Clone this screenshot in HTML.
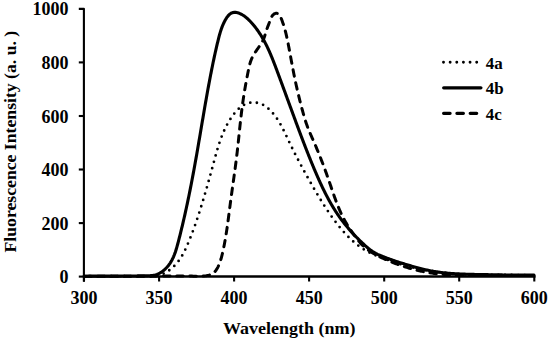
<!DOCTYPE html>
<html><head><meta charset="utf-8"><style>
html,body{margin:0;padding:0;background:#fff;}
body{width:550px;height:339px;overflow:hidden;}
svg{display:block;}
text{font-family:"Liberation Serif", serif;font-weight:bold;font-size:18px;fill:#000;}
</style></head><body>
<svg width="550" height="339" viewBox="0 0 550 339">
<rect width="550" height="339" fill="#fff"/>
<g stroke="#000" stroke-width="2.1" fill="none" stroke-linecap="butt">
<path d="M78.8 8.85 H83.9 V281.7" stroke-linejoin="round"/>
<line x1="83" y1="276.5" x2="535.5" y2="276.5" stroke-width="2.4"/>
<line x1="78.8" y1="276.6" x2="84" y2="276.6"/><line x1="78.8" y1="223.1" x2="84" y2="223.1"/><line x1="78.8" y1="169.5" x2="84" y2="169.5"/><line x1="78.8" y1="116.0" x2="84" y2="116.0"/><line x1="78.8" y1="62.4" x2="84" y2="62.4"/>
<line x1="84.0" y1="276" x2="84.0" y2="281.5"/><line x1="159.1" y1="276" x2="159.1" y2="281.5"/><line x1="234.1" y1="276" x2="234.1" y2="281.5"/><line x1="309.1" y1="276" x2="309.1" y2="281.5"/><line x1="384.2" y1="276" x2="384.2" y2="281.5"/><line x1="459.2" y1="276" x2="459.2" y2="281.5"/><line x1="534.3" y1="276" x2="534.3" y2="281.5"/>
</g>
<g fill="none" stroke="#000" stroke-linejoin="round">
<path d="M84.00 276.28 L85.01 276.29 L86.01 276.29 L87.01 276.29 L88.01 276.29 L89.01 276.29 L90.01 276.29 L91.01 276.29 L92.01 276.29 L93.01 276.29 L94.01 276.29 L95.01 276.29 L96.01 276.28 L97.02 276.28 L98.02 276.28 L99.02 276.27 L100.02 276.27 L101.02 276.26 L102.02 276.26 L103.02 276.25 L104.02 276.24 L105.02 276.24 L106.02 276.23 L107.02 276.23 L108.02 276.22 L109.03 276.21 L110.03 276.21 L111.03 276.20 L112.03 276.20 L113.03 276.19 L114.03 276.19 L115.03 276.18 L116.03 276.18 L117.03 276.17 L118.03 276.17 L119.03 276.16 L120.03 276.16 L121.04 276.16 L122.04 276.15 L123.04 276.15 L124.04 276.15 L125.04 276.15 L126.04 276.15 L127.04 276.15 L128.04 276.15 L129.04 276.15 L130.04 276.15 L131.04 276.15 L132.05 276.15 L133.05 276.16 L134.05 276.16 L135.05 276.16 L136.05 276.17 L137.05 276.17 L138.05 276.17 L139.05 276.18 L140.05 276.18 L141.05 276.19 L142.05 276.19 L143.05 276.20 L144.06 276.20 L145.06 276.21 L146.06 276.21 L147.06 276.21 L148.06 276.21 L149.06 276.19 L150.06 276.17 L151.06 276.14 L152.06 276.09 L153.06 276.02 L154.06 275.94 L155.05 275.83 L156.04 275.70 L157.03 275.54 L158.01 275.35 L158.99 275.12 L159.96 274.87 L160.91 274.57 L161.86 274.24 L162.79 273.88 L163.71 273.49 L164.62 273.06 L165.51 272.60 L166.38 272.12 L167.24 271.61 L168.09 271.07 L168.91 270.51 L169.73 269.92 L170.52 269.31 L171.30 268.69 L172.06 268.04 L172.81 267.37 L173.54 266.69 L174.26 265.99 L174.96 265.27 L175.64 264.54 L176.30 263.79 L176.95 263.03 L177.59 262.26 L178.21 261.47 L178.81 260.67 L179.39 259.86 L179.96 259.03 L180.51 258.20 L181.05 257.36 L181.58 256.50 L182.09 255.64 L182.59 254.78 L183.07 253.90 L183.54 253.02 L184.01 252.13 L184.46 251.24 L184.90 250.34 L185.33 249.44 L185.75 248.53 L186.17 247.62 L186.58 246.71 L186.98 245.79 L187.38 244.87 L187.78 243.95 L188.17 243.03 L188.55 242.11 L188.94 241.18 L189.32 240.26 L189.70 239.33 L190.07 238.40 L190.44 237.47 L190.81 236.54 L191.17 235.61 L191.53 234.68 L191.89 233.74 L192.25 232.81 L192.60 231.87 L192.95 230.93 L193.30 229.99 L193.64 229.05 L193.99 228.11 L194.33 227.17 L194.66 226.23 L195.00 225.29 L195.33 224.34 L195.66 223.40 L195.99 222.45 L196.31 221.50 L196.64 220.56 L196.96 219.61 L197.27 218.66 L197.59 217.71 L197.91 216.76 L198.22 215.81 L198.53 214.86 L198.84 213.91 L199.15 212.95 L199.45 212.00 L199.76 211.05 L200.06 210.09 L200.36 209.14 L200.66 208.18 L200.96 207.23 L201.25 206.27 L201.55 205.32 L201.84 204.36 L202.13 203.40 L202.42 202.44 L202.71 201.49 L203.00 200.53 L203.29 199.57 L203.58 198.61 L203.86 197.65 L204.15 196.69 L204.43 195.73 L204.71 194.77 L204.99 193.81 L205.27 192.85 L205.55 191.89 L205.83 190.93 L206.11 189.97 L206.39 189.00 L206.66 188.04 L206.94 187.08 L207.21 186.12 L207.48 185.15 L207.75 184.19 L208.03 183.23 L208.30 182.26 L208.57 181.30 L208.84 180.34 L209.11 179.37 L209.38 178.41 L209.64 177.44 L209.91 176.48 L210.18 175.52 L210.44 174.55 L210.71 173.59 L210.97 172.62 L211.24 171.66 L211.50 170.69 L211.77 169.73 L212.03 168.76 L212.30 167.79 L212.56 166.83 L212.82 165.86 L213.08 164.90 L213.35 163.93 L213.61 162.97 L213.87 162.00 L214.13 161.03 L214.40 160.07 L214.66 159.10 L214.92 158.14 L215.18 157.17 L215.45 156.21 L215.72 155.24 L215.98 154.28 L216.26 153.31 L216.53 152.35 L216.80 151.39 L217.08 150.43 L217.36 149.47 L217.65 148.51 L217.94 147.55 L218.23 146.59 L218.53 145.64 L218.83 144.68 L219.14 143.73 L219.45 142.78 L219.77 141.83 L220.10 140.88 L220.43 139.94 L220.76 139.00 L221.11 138.06 L221.46 137.12 L221.82 136.18 L222.18 135.25 L222.55 134.32 L222.93 133.40 L223.32 132.48 L223.72 131.56 L224.13 130.64 L224.54 129.73 L224.96 128.82 L225.40 127.92 L225.84 127.02 L226.29 126.13 L226.75 125.24 L227.22 124.36 L227.71 123.48 L228.20 122.61 L228.70 121.75 L229.21 120.89 L229.73 120.03 L230.26 119.18 L230.81 118.34 L231.36 117.51 L231.93 116.68 L232.50 115.87 L233.09 115.06 L233.70 114.26 L234.32 113.47 L234.95 112.70 L235.60 111.94 L236.26 111.19 L236.95 110.46 L237.65 109.74 L238.37 109.05 L239.11 108.37 L239.87 107.72 L240.65 107.09 L241.45 106.49 L242.27 105.92 L243.12 105.39 L243.98 104.89 L244.87 104.43 L245.78 104.01 L246.71 103.64 L247.66 103.31 L248.62 103.03 L249.59 102.81 L250.58 102.64 L251.57 102.53 L252.57 102.46 L253.57 102.45 L254.57 102.49 L255.57 102.57 L256.56 102.71 L257.55 102.88 L258.52 103.11 L259.49 103.38 L260.44 103.69 L261.37 104.05 L262.28 104.46 L263.18 104.91 L264.05 105.40 L264.89 105.94 L265.72 106.51 L266.52 107.11 L267.30 107.73 L268.06 108.38 L268.81 109.04 L269.54 109.73 L270.26 110.42 L270.96 111.14 L271.65 111.86 L272.32 112.61 L272.98 113.36 L273.63 114.13 L274.25 114.90 L274.87 115.69 L275.47 116.49 L276.06 117.30 L276.64 118.12 L277.20 118.95 L277.75 119.78 L278.29 120.63 L278.82 121.48 L279.34 122.33 L279.85 123.19 L280.35 124.06 L280.84 124.93 L281.32 125.81 L281.80 126.69 L282.26 127.58 L282.72 128.46 L283.18 129.36 L283.63 130.25 L284.07 131.15 L284.51 132.05 L284.95 132.95 L285.38 133.85 L285.81 134.75 L286.24 135.66 L286.66 136.56 L287.09 137.47 L287.51 138.38 L287.94 139.28 L288.36 140.19 L288.79 141.10 L289.21 142.00 L289.64 142.91 L290.07 143.81 L290.50 144.71 L290.94 145.61 L291.38 146.51 L291.82 147.41 L292.26 148.31 L292.70 149.21 L293.14 150.11 L293.59 151.00 L294.04 151.90 L294.49 152.79 L294.94 153.68 L295.40 154.57 L295.85 155.47 L296.31 156.36 L296.77 157.25 L297.23 158.13 L297.69 159.02 L298.15 159.91 L298.62 160.80 L299.09 161.68 L299.55 162.57 L300.02 163.45 L300.49 164.33 L300.97 165.21 L301.44 166.10 L301.92 166.98 L302.39 167.86 L302.87 168.74 L303.35 169.61 L303.83 170.49 L304.31 171.37 L304.79 172.25 L305.28 173.12 L305.76 174.00 L306.25 174.87 L306.73 175.75 L307.22 176.62 L307.71 177.50 L308.20 178.37 L308.69 179.24 L309.18 180.11 L309.67 180.99 L310.17 181.86 L310.66 182.73 L311.15 183.60 L311.65 184.47 L312.14 185.34 L312.64 186.21 L313.14 187.07 L313.64 187.94 L314.14 188.81 L314.64 189.68 L315.14 190.54 L315.65 191.41 L316.15 192.27 L316.66 193.13 L317.17 193.99 L317.68 194.86 L318.19 195.72 L318.70 196.57 L319.22 197.43 L319.74 198.29 L320.25 199.14 L320.78 200.00 L321.30 200.85 L321.83 201.70 L322.36 202.55 L322.89 203.40 L323.42 204.25 L323.96 205.09 L324.49 205.94 L325.04 206.78 L325.58 207.62 L326.13 208.46 L326.68 209.29 L327.23 210.13 L327.79 210.96 L328.34 211.79 L328.91 212.62 L329.47 213.44 L330.04 214.27 L330.61 215.09 L331.19 215.91 L331.77 216.72 L332.35 217.54 L332.93 218.35 L333.52 219.16 L334.12 219.96 L334.71 220.77 L335.31 221.57 L335.92 222.37 L336.53 223.16 L337.14 223.95 L337.76 224.74 L338.38 225.53 L339.00 226.31 L339.63 227.08 L340.27 227.86 L340.91 228.63 L341.55 229.39 L342.20 230.15 L342.86 230.91 L343.52 231.66 L344.19 232.41 L344.86 233.15 L345.54 233.89 L346.22 234.62 L346.91 235.34 L347.60 236.06 L348.31 236.78 L349.01 237.48 L349.73 238.19 L350.45 238.88 L351.18 239.57 L351.91 240.25 L352.65 240.92 L353.40 241.58 L354.16 242.24 L354.92 242.89 L355.69 243.53 L356.46 244.16 L357.25 244.78 L358.04 245.39 L358.84 246.00 L359.65 246.59 L360.46 247.17 L361.28 247.75 L362.11 248.31 L362.94 248.86 L363.79 249.40 L364.64 249.93 L365.50 250.44 L366.36 250.94 L367.23 251.44 L368.11 251.91 L369.00 252.38 L369.89 252.83 L370.79 253.27 L371.70 253.69 L372.61 254.11 L373.52 254.51 L374.44 254.90 L375.37 255.29 L376.30 255.66 L377.23 256.03 L378.16 256.39 L379.10 256.75 L380.03 257.10 L380.97 257.45 L381.91 257.80 L382.85 258.14 L383.79 258.49 L384.73 258.83 L385.67 259.18 L386.61 259.52 L387.55 259.86 L388.49 260.20 L389.44 260.53 L390.38 260.86 L391.32 261.20 L392.27 261.52 L393.22 261.85 L394.16 262.17 L395.11 262.48 L396.07 262.79 L397.02 263.10 L397.97 263.40 L398.93 263.70 L399.89 263.99 L400.84 264.28 L401.80 264.56 L402.77 264.84 L403.73 265.11 L404.69 265.38 L405.66 265.65 L406.62 265.91 L407.59 266.16 L408.56 266.41 L409.53 266.66 L410.50 266.90 L411.47 267.14 L412.45 267.37 L413.42 267.60 L414.40 267.83 L415.37 268.05 L416.35 268.26 L417.33 268.47 L418.31 268.68 L419.29 268.88 L420.27 269.08 L421.25 269.28 L422.23 269.47 L423.22 269.66 L424.20 269.84 L425.18 270.02 L426.17 270.20 L427.16 270.37 L428.14 270.53 L429.13 270.70 L430.12 270.86 L431.11 271.01 L432.10 271.17 L433.09 271.32 L434.08 271.46 L435.07 271.60 L436.06 271.74 L437.05 271.88 L438.04 272.01 L439.03 272.13 L440.03 272.26 L441.02 272.38 L442.01 272.50 L443.01 272.61 L444.00 272.72 L445.00 272.83 L445.99 272.93 L446.99 273.04 L447.99 273.13 L448.98 273.23 L449.98 273.32 L450.98 273.41 L451.97 273.49 L452.97 273.58 L453.97 273.66 L454.97 273.73 L455.96 273.81 L456.96 273.88 L457.96 273.95 L458.96 274.01 L459.96 274.08 L460.96 274.14 L461.96 274.19 L462.96 274.25 L463.96 274.30 L464.96 274.35 L465.96 274.40 L466.95 274.44 L467.95 274.48 L468.95 274.52 L469.96 274.56 L470.96 274.60 L471.96 274.63 L472.96 274.66 L473.96 274.69 L474.96 274.72 L475.96 274.74 L476.96 274.77 L477.96 274.79 L478.96 274.81 L479.96 274.83 L480.96 274.85 L481.96 274.86 L482.96 274.88 L483.96 274.89 L484.96 274.90 L485.96 274.91 L486.97 274.92 L487.97 274.93 L488.97 274.94 L489.97 274.94 L490.97 274.95 L491.97 274.96 L492.97 274.96 L493.97 274.96 L494.97 274.97 L495.97 274.97 L496.97 274.97 L497.97 274.98 L498.98 274.98 L499.98 274.98 L500.98 274.98 L501.98 274.98 L502.98 274.98 L503.98 274.99 L504.98 274.99 L505.98 274.99 L506.98 274.99 L507.98 274.99 L508.98 275.00 L509.98 275.00 L510.99 275.01 L511.99 275.01 L512.99 275.02 L513.99 275.02 L514.99 275.03 L515.99 275.04 L516.99 275.05 L517.99 275.06 L518.99 275.07 L519.99 275.08 L520.99 275.10 L521.99 275.11 L522.99 275.13 L524.00 275.15 L525.00 275.16 L526.00 275.19 L527.00 275.21 L528.00 275.23 L529.00 275.26 L530.00 275.29 L531.00 275.32 L532.00 275.35 L533.00 275.39 L534.00 275.42" stroke-width="2.8" stroke-linecap="round" stroke-dasharray="0 6.6" stroke-dashoffset="5.85"/>
<path d="M84.02 276.21 L85.02 276.20 L86.02 276.19 L87.02 276.18 L88.02 276.18 L89.02 276.17 L90.02 276.16 L91.02 276.16 L92.02 276.16 L93.03 276.15 L94.03 276.15 L95.03 276.15 L96.03 276.14 L97.03 276.14 L98.03 276.14 L99.03 276.14 L100.03 276.14 L101.03 276.14 L102.04 276.14 L103.04 276.13 L104.04 276.13 L105.04 276.13 L106.04 276.13 L107.04 276.13 L108.04 276.13 L109.04 276.13 L110.04 276.13 L111.04 276.13 L112.05 276.12 L113.05 276.12 L114.05 276.12 L115.05 276.11 L116.05 276.11 L117.05 276.10 L118.05 276.10 L119.05 276.09 L120.05 276.09 L121.05 276.08 L122.06 276.07 L123.06 276.06 L124.06 276.05 L125.06 276.04 L126.06 276.03 L127.06 276.02 L128.06 276.01 L129.06 276.00 L130.06 275.99 L131.06 275.98 L132.07 275.97 L133.07 275.96 L134.07 275.95 L135.07 275.94 L136.07 275.94 L137.07 275.93 L138.07 275.92 L139.07 275.91 L140.07 275.90 L141.08 275.90 L142.08 275.89 L143.08 275.89 L144.08 275.88 L145.08 275.88 L146.08 275.87 L147.08 275.86 L148.08 275.83 L149.08 275.79 L150.08 275.73 L151.08 275.64 L152.07 275.53 L153.06 275.38 L154.05 275.19 L155.02 274.96 L155.98 274.68 L156.93 274.35 L157.86 273.98 L158.77 273.57 L159.66 273.11 L160.53 272.62 L161.38 272.09 L162.21 271.52 L163.01 270.93 L163.79 270.31 L164.55 269.65 L165.29 268.98 L166.00 268.27 L166.69 267.55 L167.36 266.80 L168.01 266.04 L168.63 265.25 L169.22 264.45 L169.80 263.63 L170.35 262.79 L170.88 261.94 L171.38 261.08 L171.87 260.20 L172.33 259.31 L172.77 258.42 L173.19 257.51 L173.60 256.59 L173.98 255.67 L174.36 254.74 L174.71 253.80 L175.05 252.86 L175.38 251.92 L175.69 250.97 L176.00 250.01 L176.29 249.06 L176.58 248.10 L176.86 247.14 L177.13 246.17 L177.39 245.21 L177.65 244.24 L177.91 243.27 L178.16 242.30 L178.42 241.34 L178.67 240.37 L178.92 239.40 L179.17 238.43 L179.41 237.46 L179.66 236.49 L179.91 235.52 L180.15 234.55 L180.39 233.57 L180.63 232.60 L180.87 231.63 L181.11 230.66 L181.35 229.69 L181.58 228.71 L181.82 227.74 L182.05 226.77 L182.29 225.79 L182.52 224.82 L182.75 223.85 L182.98 222.87 L183.21 221.90 L183.43 220.92 L183.66 219.95 L183.88 218.97 L184.11 217.99 L184.33 217.02 L184.55 216.04 L184.77 215.07 L184.99 214.09 L185.21 213.11 L185.43 212.14 L185.64 211.16 L185.86 210.18 L186.07 209.20 L186.28 208.22 L186.50 207.25 L186.71 206.27 L186.92 205.29 L187.13 204.31 L187.33 203.33 L187.54 202.35 L187.75 201.37 L187.95 200.39 L188.16 199.41 L188.36 198.43 L188.56 197.45 L188.77 196.47 L188.97 195.49 L189.17 194.51 L189.37 193.53 L189.56 192.55 L189.76 191.57 L189.96 190.58 L190.15 189.60 L190.35 188.62 L190.54 187.64 L190.74 186.66 L190.93 185.67 L191.12 184.69 L191.31 183.71 L191.50 182.73 L191.69 181.74 L191.88 180.76 L192.07 179.78 L192.26 178.79 L192.44 177.81 L192.63 176.83 L192.81 175.84 L193.00 174.86 L193.18 173.87 L193.36 172.89 L193.55 171.91 L193.73 170.92 L193.91 169.94 L194.09 168.95 L194.27 167.97 L194.45 166.98 L194.63 166.00 L194.81 165.01 L194.99 164.03 L195.16 163.04 L195.34 162.06 L195.52 161.07 L195.69 160.09 L195.87 159.10 L196.04 158.12 L196.22 157.13 L196.39 156.14 L196.57 155.16 L196.74 154.17 L196.91 153.19 L197.08 152.20 L197.25 151.21 L197.43 150.23 L197.60 149.24 L197.77 148.25 L197.94 147.27 L198.11 146.28 L198.28 145.30 L198.45 144.31 L198.61 143.32 L198.78 142.34 L198.95 141.35 L199.12 140.36 L199.29 139.37 L199.46 138.39 L199.62 137.40 L199.79 136.41 L199.96 135.43 L200.13 134.44 L200.29 133.45 L200.46 132.47 L200.63 131.48 L200.79 130.49 L200.96 129.50 L201.13 128.52 L201.29 127.53 L201.46 126.54 L201.63 125.56 L201.80 124.57 L201.96 123.58 L202.13 122.60 L202.30 121.61 L202.46 120.62 L202.63 119.63 L202.80 118.65 L202.97 117.66 L203.13 116.67 L203.30 115.69 L203.47 114.70 L203.64 113.71 L203.81 112.73 L203.98 111.74 L204.14 110.75 L204.31 109.77 L204.48 108.78 L204.65 107.79 L204.82 106.81 L205.00 105.82 L205.17 104.83 L205.34 103.85 L205.51 102.86 L205.68 101.88 L205.86 100.89 L206.03 99.90 L206.20 98.92 L206.38 97.93 L206.55 96.95 L206.73 95.96 L206.90 94.98 L207.08 93.99 L207.26 93.01 L207.43 92.02 L207.61 91.03 L207.79 90.05 L207.97 89.07 L208.15 88.08 L208.33 87.10 L208.51 86.11 L208.69 85.13 L208.88 84.14 L209.06 83.16 L209.24 82.17 L209.43 81.19 L209.61 80.21 L209.80 79.22 L209.99 78.24 L210.18 77.26 L210.37 76.27 L210.56 75.29 L210.75 74.31 L210.94 73.33 L211.13 72.34 L211.33 71.36 L211.52 70.38 L211.72 69.40 L211.91 68.42 L212.11 67.44 L212.31 66.45 L212.51 65.47 L212.71 64.49 L212.91 63.51 L213.11 62.53 L213.32 61.55 L213.52 60.57 L213.73 59.59 L213.94 58.61 L214.15 57.63 L214.36 56.66 L214.57 55.68 L214.78 54.70 L215.00 53.72 L215.21 52.74 L215.43 51.77 L215.65 50.79 L215.87 49.81 L216.09 48.84 L216.32 47.86 L216.54 46.89 L216.77 45.91 L217.00 44.94 L217.23 43.96 L217.47 42.99 L217.70 42.02 L217.94 41.04 L218.18 40.07 L218.42 39.10 L218.66 38.13 L218.91 37.16 L219.16 36.19 L219.42 35.22 L219.69 34.26 L219.96 33.30 L220.24 32.34 L220.54 31.38 L220.84 30.43 L221.16 29.48 L221.48 28.53 L221.83 27.59 L222.18 26.65 L222.55 25.72 L222.94 24.80 L223.35 23.89 L223.77 22.98 L224.20 22.08 L224.66 21.19 L225.13 20.30 L225.63 19.43 L226.14 18.58 L226.69 17.73 L227.26 16.92 L227.88 16.13 L228.53 15.37 L229.24 14.66 L230.00 14.01 L230.82 13.43 L231.70 12.96 L232.64 12.62 L233.62 12.42 L234.62 12.35 L235.62 12.39 L236.61 12.54 L237.58 12.76 L238.54 13.05 L239.48 13.40 L240.40 13.80 L241.30 14.24 L242.17 14.72 L243.03 15.23 L243.87 15.78 L244.68 16.36 L245.48 16.97 L246.26 17.60 L247.02 18.25 L247.76 18.92 L248.49 19.61 L249.21 20.31 L249.91 21.02 L250.59 21.75 L251.27 22.49 L251.94 23.23 L252.60 23.99 L253.25 24.75 L253.89 25.52 L254.52 26.29 L255.14 27.08 L255.76 27.87 L256.36 28.67 L256.95 29.47 L257.54 30.28 L258.12 31.10 L258.69 31.93 L259.25 32.76 L259.80 33.59 L260.34 34.43 L260.87 35.28 L261.40 36.13 L261.92 36.99 L262.43 37.85 L262.93 38.72 L263.42 39.59 L263.91 40.46 L264.39 41.34 L264.86 42.22 L265.32 43.11 L265.78 44.00 L266.23 44.89 L266.68 45.79 L267.12 46.69 L267.55 47.59 L267.98 48.50 L268.40 49.41 L268.81 50.32 L269.22 51.23 L269.63 52.14 L270.03 53.06 L270.43 53.98 L270.82 54.90 L271.21 55.83 L271.59 56.75 L271.97 57.68 L272.35 58.60 L272.72 59.53 L273.09 60.46 L273.46 61.39 L273.82 62.33 L274.18 63.26 L274.54 64.19 L274.90 65.13 L275.26 66.06 L275.61 67.00 L275.96 67.94 L276.32 68.87 L276.67 69.81 L277.02 70.75 L277.37 71.69 L277.72 72.63 L278.06 73.56 L278.41 74.50 L278.76 75.44 L279.11 76.38 L279.46 77.32 L279.81 78.26 L280.15 79.20 L280.50 80.13 L280.85 81.07 L281.20 82.01 L281.54 82.95 L281.89 83.89 L282.24 84.83 L282.58 85.77 L282.93 86.71 L283.27 87.65 L283.62 88.59 L283.97 89.53 L284.31 90.47 L284.66 91.41 L285.00 92.34 L285.35 93.28 L285.69 94.22 L286.04 95.16 L286.38 96.10 L286.73 97.04 L287.07 97.98 L287.42 98.92 L287.77 99.86 L288.11 100.80 L288.46 101.74 L288.80 102.68 L289.15 103.62 L289.49 104.56 L289.84 105.50 L290.18 106.44 L290.53 107.38 L290.87 108.32 L291.22 109.26 L291.56 110.20 L291.91 111.14 L292.25 112.08 L292.60 113.02 L292.94 113.96 L293.29 114.89 L293.64 115.83 L293.98 116.77 L294.33 117.71 L294.68 118.65 L295.02 119.59 L295.37 120.53 L295.72 121.47 L296.06 122.41 L296.41 123.35 L296.76 124.29 L297.11 125.22 L297.46 126.16 L297.81 127.10 L298.15 128.04 L298.50 128.98 L298.85 129.91 L299.21 130.85 L299.56 131.79 L299.91 132.73 L300.26 133.66 L300.61 134.60 L300.97 135.54 L301.32 136.47 L301.67 137.41 L302.03 138.35 L302.39 139.28 L302.74 140.22 L303.10 141.15 L303.46 142.09 L303.82 143.02 L304.18 143.96 L304.54 144.89 L304.90 145.82 L305.26 146.76 L305.62 147.69 L305.98 148.62 L306.35 149.55 L306.71 150.49 L307.08 151.42 L307.45 152.35 L307.82 153.28 L308.19 154.21 L308.56 155.14 L308.93 156.07 L309.30 157.00 L309.67 157.93 L310.05 158.86 L310.43 159.78 L310.80 160.71 L311.18 161.64 L311.56 162.56 L311.94 163.49 L312.32 164.42 L312.71 165.34 L313.09 166.26 L313.48 167.19 L313.86 168.11 L314.25 169.03 L314.64 169.96 L315.03 170.88 L315.43 171.80 L315.82 172.72 L316.22 173.64 L316.61 174.56 L317.01 175.47 L317.41 176.39 L317.82 177.31 L318.22 178.22 L318.63 179.14 L319.04 180.05 L319.45 180.96 L319.87 181.87 L320.28 182.78 L320.70 183.69 L321.13 184.60 L321.55 185.51 L321.98 186.41 L322.41 187.32 L322.84 188.22 L323.28 189.12 L323.72 190.02 L324.16 190.92 L324.61 191.81 L325.06 192.71 L325.51 193.60 L325.97 194.49 L326.43 195.38 L326.89 196.26 L327.36 197.15 L327.83 198.03 L328.31 198.91 L328.79 199.79 L329.27 200.67 L329.76 201.54 L330.25 202.41 L330.75 203.28 L331.25 204.15 L331.75 205.01 L332.26 205.88 L332.78 206.73 L333.30 207.59 L333.82 208.44 L334.35 209.29 L334.88 210.14 L335.42 210.98 L335.97 211.82 L336.52 212.66 L337.07 213.50 L337.63 214.33 L338.19 215.15 L338.76 215.98 L339.34 216.80 L339.92 217.61 L340.50 218.42 L341.09 219.23 L341.69 220.03 L342.29 220.83 L342.90 221.63 L343.51 222.42 L344.13 223.21 L344.75 223.99 L345.38 224.77 L346.01 225.55 L346.65 226.32 L347.29 227.09 L347.94 227.86 L348.59 228.62 L349.24 229.37 L349.90 230.13 L350.57 230.88 L351.23 231.62 L351.91 232.36 L352.58 233.10 L353.26 233.84 L353.95 234.57 L354.63 235.29 L355.33 236.02 L356.02 236.74 L356.72 237.46 L357.42 238.17 L358.13 238.88 L358.84 239.58 L359.55 240.29 L360.27 240.99 L360.98 241.68 L361.71 242.38 L362.43 243.07 L363.16 243.75 L363.89 244.44 L364.63 245.11 L365.37 245.79 L366.12 246.45 L366.87 247.11 L367.63 247.76 L368.40 248.40 L369.18 249.03 L369.97 249.64 L370.78 250.24 L371.59 250.82 L372.42 251.39 L373.26 251.93 L374.11 252.45 L374.98 252.95 L375.86 253.43 L376.75 253.88 L377.65 254.32 L378.56 254.74 L379.48 255.14 L380.40 255.54 L381.32 255.92 L382.25 256.29 L383.18 256.66 L384.12 257.02 L385.05 257.38 L385.99 257.74 L386.92 258.09 L387.86 258.44 L388.80 258.78 L389.74 259.12 L390.69 259.46 L391.63 259.80 L392.57 260.13 L393.52 260.45 L394.47 260.78 L395.42 261.10 L396.36 261.42 L397.32 261.73 L398.27 262.04 L399.22 262.35 L400.17 262.66 L401.13 262.96 L402.08 263.26 L403.04 263.56 L403.99 263.85 L404.95 264.14 L405.91 264.43 L406.87 264.72 L407.83 265.01 L408.79 265.29 L409.75 265.57 L410.71 265.85 L411.67 266.13 L412.63 266.41 L413.60 266.68 L414.56 266.95 L415.52 267.22 L416.49 267.48 L417.46 267.74 L418.42 268.00 L419.39 268.25 L420.36 268.50 L421.33 268.74 L422.31 268.98 L423.28 269.22 L424.25 269.45 L425.23 269.67 L426.21 269.89 L427.18 270.10 L428.16 270.31 L429.14 270.51 L430.12 270.71 L431.11 270.90 L432.09 271.08 L433.08 271.26 L434.06 271.43 L435.05 271.59 L436.04 271.75 L437.03 271.90 L438.02 272.04 L439.01 272.18 L440.00 272.31 L441.00 272.44 L441.99 272.56 L442.99 272.68 L443.98 272.79 L444.98 272.89 L445.97 273.00 L446.97 273.09 L447.96 273.18 L448.96 273.27 L449.96 273.35 L450.96 273.43 L451.96 273.51 L452.95 273.58 L453.95 273.65 L454.95 273.71 L455.95 273.77 L456.95 273.83 L457.95 273.88 L458.95 273.93 L459.95 273.98 L460.95 274.02 L461.95 274.06 L462.95 274.10 L463.95 274.14 L464.95 274.17 L465.95 274.21 L466.95 274.24 L467.95 274.27 L468.95 274.29 L469.95 274.32 L470.96 274.35 L471.96 274.37 L472.96 274.39 L473.96 274.41 L474.96 274.43 L475.96 274.45 L476.96 274.47 L477.96 274.49 L478.96 274.51 L479.96 274.53 L480.96 274.55 L481.96 274.56 L482.97 274.58 L483.97 274.60 L484.97 274.62 L485.97 274.64 L486.97 274.66 L487.97 274.67 L488.97 274.69 L489.97 274.71 L490.97 274.73 L491.97 274.75 L492.97 274.76 L493.97 274.78 L494.98 274.80 L495.98 274.82 L496.98 274.83 L497.98 274.85 L498.98 274.87 L499.98 274.88 L500.98 274.90 L501.98 274.91 L502.98 274.93 L503.98 274.94 L504.98 274.96 L505.99 274.97 L506.99 274.99 L507.99 275.00 L508.99 275.01 L509.99 275.03 L510.99 275.04 L511.99 275.05 L512.99 275.06 L513.99 275.07 L514.99 275.08 L516.00 275.09 L517.00 275.10 L518.00 275.11 L519.00 275.12 L520.00 275.13 L521.00 275.13 L522.00 275.14 L523.00 275.15 L524.00 275.15 L525.00 275.16 L526.01 275.16 L527.01 275.16 L528.01 275.17 L529.01 275.17 L530.01 275.17 L531.01 275.17 L532.01 275.17 L533.01 275.17 L534.01 275.17" stroke-width="3.1" stroke-linecap="round"/>
<path d="M84.01 276.35 L85.02 276.33 L86.02 276.32 L87.02 276.31 L88.02 276.30 L89.02 276.29 L90.02 276.28 L91.02 276.27 L92.02 276.26 L93.02 276.26 L94.02 276.25 L95.02 276.25 L96.02 276.24 L97.02 276.24 L98.02 276.24 L99.02 276.23 L100.02 276.23 L101.02 276.23 L102.02 276.23 L103.03 276.23 L104.03 276.23 L105.03 276.23 L106.03 276.23 L107.03 276.23 L108.03 276.23 L109.03 276.24 L110.03 276.24 L111.03 276.24 L112.03 276.24 L113.03 276.25 L114.03 276.25 L115.03 276.25 L116.03 276.26 L117.03 276.26 L118.03 276.26 L119.03 276.27 L120.03 276.27 L121.04 276.27 L122.04 276.28 L123.04 276.28 L124.04 276.28 L125.04 276.28 L126.04 276.28 L127.04 276.29 L128.04 276.29 L129.04 276.29 L130.04 276.29 L131.04 276.29 L132.04 276.29 L133.04 276.29 L134.04 276.29 L135.04 276.29 L136.04 276.28 L137.04 276.28 L138.05 276.28 L139.05 276.27 L140.05 276.27 L141.05 276.26 L142.05 276.26 L143.05 276.25 L144.05 276.24 L145.05 276.23 L146.05 276.22 L147.05 276.22 L148.05 276.21 L149.05 276.20 L150.05 276.19 L151.05 276.18 L152.05 276.17 L153.05 276.16 L154.05 276.15 L155.05 276.14 L156.06 276.13 L157.06 276.11 L158.06 276.10 L159.06 276.09 L160.06 276.08 L161.06 276.07 L162.06 276.06 L163.06 276.06 L164.06 276.05 L165.06 276.04 L166.06 276.03 L167.06 276.02 L168.06 276.01 L169.06 276.01 L170.06 276.00 L171.06 276.00 L172.06 275.99 L173.06 275.99 L174.07 275.98 L175.07 275.98 L176.07 275.98 L177.07 275.98 L178.07 275.98 L179.07 275.98 L180.07 275.99 L181.07 275.99 L182.07 275.99 L183.07 276.00 L184.07 276.01 L185.07 276.01 L186.07 276.02 L187.07 276.04 L188.07 276.05 L189.07 276.06 L190.07 276.08 L191.07 276.09 L192.07 276.11 L193.08 276.13 L194.08 276.15 L195.08 276.17 L196.08 276.20 L197.08 276.21 L198.08 276.23 L199.08 276.23 L200.08 276.22 L201.08 276.19 L202.08 276.15 L203.08 276.09 L204.07 276.00 L205.07 275.88 L206.06 275.74 L207.04 275.56 L208.02 275.34 L208.99 275.09 L209.94 274.79 L210.88 274.44 L211.79 274.02 L212.66 273.53 L213.48 272.96 L214.24 272.31 L214.94 271.60 L215.59 270.83 L216.18 270.03 L216.73 269.19 L217.24 268.33 L217.71 267.45 L218.16 266.55 L218.58 265.65 L218.98 264.73 L219.35 263.80 L219.71 262.87 L220.05 261.93 L220.38 260.98 L220.68 260.03 L220.98 259.07 L221.25 258.11 L221.52 257.14 L221.77 256.18 L222.02 255.21 L222.25 254.23 L222.48 253.26 L222.70 252.28 L222.92 251.31 L223.13 250.33 L223.34 249.35 L223.55 248.37 L223.75 247.39 L223.95 246.41 L224.14 245.43 L224.33 244.45 L224.52 243.46 L224.70 242.48 L224.88 241.50 L225.06 240.51 L225.23 239.53 L225.40 238.54 L225.57 237.55 L225.74 236.57 L225.90 235.58 L226.06 234.59 L226.22 233.60 L226.37 232.61 L226.52 231.63 L226.67 230.64 L226.82 229.65 L226.97 228.66 L227.11 227.67 L227.25 226.68 L227.39 225.69 L227.53 224.70 L227.67 223.70 L227.81 222.71 L227.94 221.72 L228.08 220.73 L228.21 219.74 L228.34 218.75 L228.47 217.75 L228.60 216.76 L228.73 215.77 L228.86 214.78 L228.99 213.79 L229.12 212.79 L229.24 211.80 L229.37 210.81 L229.50 209.82 L229.63 208.82 L229.75 207.83 L229.88 206.84 L230.01 205.85 L230.14 204.85 L230.27 203.86 L230.39 202.87 L230.52 201.88 L230.66 200.89 L230.79 199.89 L230.92 198.90 L231.05 197.91 L231.19 196.92 L231.32 195.93 L231.46 194.94 L231.59 193.94 L231.73 192.95 L231.87 191.96 L232.00 190.97 L232.14 189.98 L232.28 188.99 L232.42 188.00 L232.56 187.01 L232.70 186.02 L232.84 185.03 L232.97 184.03 L233.11 183.04 L233.25 182.05 L233.39 181.06 L233.53 180.07 L233.67 179.08 L233.81 178.09 L233.94 177.10 L234.08 176.11 L234.22 175.12 L234.36 174.12 L234.49 173.13 L234.63 172.14 L234.76 171.15 L234.90 170.16 L235.03 169.17 L235.17 168.18 L235.30 167.18 L235.43 166.19 L235.56 165.20 L235.69 164.21 L235.82 163.22 L235.95 162.22 L236.08 161.23 L236.20 160.24 L236.33 159.25 L236.45 158.25 L236.57 157.26 L236.69 156.27 L236.81 155.27 L236.93 154.28 L237.05 153.29 L237.16 152.29 L237.27 151.30 L237.39 150.30 L237.50 149.31 L237.61 148.31 L237.72 147.32 L237.83 146.33 L237.94 145.33 L238.04 144.34 L238.15 143.34 L238.26 142.35 L238.36 141.35 L238.47 140.36 L238.57 139.36 L238.68 138.37 L238.78 137.37 L238.88 136.38 L238.99 135.38 L239.09 134.38 L239.19 133.39 L239.30 132.39 L239.40 131.40 L239.51 130.40 L239.61 129.41 L239.71 128.41 L239.82 127.42 L239.93 126.42 L240.03 125.43 L240.14 124.43 L240.25 123.44 L240.35 122.44 L240.46 121.45 L240.57 120.46 L240.68 119.46 L240.79 118.47 L240.91 117.47 L241.02 116.48 L241.14 115.48 L241.25 114.49 L241.37 113.50 L241.49 112.50 L241.61 111.51 L241.73 110.52 L241.86 109.52 L241.98 108.53 L242.11 107.54 L242.24 106.55 L242.37 105.55 L242.50 104.56 L242.64 103.57 L242.78 102.58 L242.92 101.59 L243.06 100.60 L243.20 99.61 L243.35 98.62 L243.50 97.63 L243.65 96.64 L243.80 95.65 L243.96 94.66 L244.11 93.68 L244.27 92.69 L244.43 91.70 L244.60 90.71 L244.76 89.73 L244.93 88.74 L245.10 87.75 L245.27 86.77 L245.44 85.78 L245.61 84.80 L245.79 83.81 L245.97 82.83 L246.15 81.84 L246.33 80.86 L246.52 79.88 L246.70 78.89 L246.89 77.91 L247.08 76.93 L247.27 75.94 L247.46 74.96 L247.65 73.98 L247.85 73.00 L248.05 72.02 L248.24 71.04 L248.44 70.06 L248.65 69.08 L248.86 68.10 L249.07 67.12 L249.30 66.15 L249.54 65.18 L249.79 64.21 L250.06 63.24 L250.35 62.29 L250.66 61.33 L250.99 60.39 L251.34 59.45 L251.72 58.53 L252.14 57.62 L252.58 56.72 L253.05 55.83 L253.54 54.96 L254.05 54.11 L254.59 53.26 L255.13 52.42 L255.69 51.59 L256.26 50.77 L256.83 49.95 L257.41 49.13 L257.99 48.31 L258.56 47.49 L259.13 46.67 L259.70 45.84 L260.25 45.01 L260.79 44.17 L261.32 43.32 L261.83 42.46 L262.32 41.58 L262.78 40.70 L263.22 39.80 L263.64 38.89 L264.02 37.97 L264.37 37.03 L264.69 36.08 L264.98 35.13 L265.26 34.16 L265.54 33.20 L265.82 32.24 L266.12 31.29 L266.44 30.34 L266.77 29.39 L267.11 28.45 L267.46 27.52 L267.81 26.58 L268.17 25.65 L268.53 24.71 L268.88 23.78 L269.23 22.84 L269.56 21.89 L269.89 20.95 L270.23 20.01 L270.58 19.07 L270.96 18.14 L271.38 17.24 L271.87 16.36 L272.44 15.54 L273.10 14.80 L273.88 14.17 L274.75 13.68 L275.70 13.36 L276.69 13.26 L277.67 13.47 L278.52 13.98 L279.23 14.68 L279.81 15.50 L280.30 16.37 L280.74 17.27 L281.13 18.19 L281.50 19.12 L281.85 20.05 L282.20 20.99 L282.53 21.94 L282.86 22.88 L283.18 23.83 L283.49 24.78 L283.79 25.73 L284.09 26.69 L284.37 27.65 L284.65 28.61 L284.92 29.57 L285.18 30.54 L285.44 31.51 L285.69 32.48 L285.93 33.45 L286.16 34.42 L286.39 35.39 L286.62 36.37 L286.84 37.35 L287.05 38.32 L287.26 39.30 L287.46 40.28 L287.67 41.26 L287.86 42.24 L288.06 43.22 L288.25 44.20 L288.44 45.19 L288.63 46.17 L288.82 47.15 L289.01 48.14 L289.19 49.12 L289.38 50.10 L289.56 51.09 L289.75 52.07 L289.93 53.05 L290.11 54.04 L290.30 55.02 L290.48 56.00 L290.66 56.99 L290.84 57.97 L291.02 58.96 L291.21 59.94 L291.39 60.92 L291.57 61.91 L291.75 62.89 L291.94 63.87 L292.12 64.86 L292.31 65.84 L292.49 66.82 L292.68 67.81 L292.87 68.79 L293.06 69.77 L293.25 70.75 L293.44 71.74 L293.63 72.72 L293.82 73.70 L294.02 74.68 L294.21 75.66 L294.41 76.64 L294.61 77.62 L294.82 78.60 L295.02 79.58 L295.23 80.56 L295.43 81.54 L295.64 82.52 L295.85 83.50 L296.07 84.48 L296.28 85.45 L296.50 86.43 L296.72 87.41 L296.94 88.38 L297.16 89.36 L297.39 90.33 L297.61 91.31 L297.84 92.28 L298.07 93.25 L298.30 94.23 L298.54 95.20 L298.77 96.17 L299.01 97.15 L299.25 98.12 L299.49 99.09 L299.73 100.06 L299.98 101.03 L300.22 102.00 L300.47 102.97 L300.72 103.94 L300.97 104.91 L301.22 105.87 L301.48 106.84 L301.73 107.81 L301.99 108.78 L302.25 109.74 L302.51 110.71 L302.77 111.67 L303.04 112.64 L303.31 113.60 L303.58 114.57 L303.85 115.53 L304.13 116.49 L304.41 117.45 L304.70 118.41 L304.99 119.36 L305.29 120.32 L305.59 121.27 L305.90 122.22 L306.22 123.17 L306.54 124.12 L306.87 125.07 L307.21 126.01 L307.56 126.95 L307.91 127.88 L308.27 128.81 L308.65 129.74 L309.02 130.67 L309.41 131.59 L309.80 132.52 L310.19 133.44 L310.59 134.35 L310.99 135.27 L311.40 136.18 L311.80 137.10 L312.21 138.01 L312.61 138.93 L313.02 139.84 L313.42 140.76 L313.82 141.68 L314.22 142.59 L314.62 143.51 L315.01 144.43 L315.41 145.35 L315.80 146.27 L316.19 147.20 L316.57 148.12 L316.96 149.04 L317.34 149.97 L317.72 150.89 L318.10 151.82 L318.48 152.74 L318.86 153.67 L319.23 154.60 L319.60 155.53 L319.97 156.46 L320.34 157.39 L320.71 158.32 L321.07 159.25 L321.43 160.18 L321.80 161.12 L322.15 162.05 L322.51 162.98 L322.87 163.92 L323.22 164.85 L323.58 165.79 L323.93 166.73 L324.28 167.67 L324.62 168.60 L324.97 169.54 L325.31 170.48 L325.65 171.42 L326.00 172.36 L326.34 173.30 L326.67 174.25 L327.01 175.19 L327.34 176.13 L327.68 177.08 L328.01 178.02 L328.34 178.96 L328.67 179.91 L328.99 180.86 L329.32 181.80 L329.64 182.75 L329.97 183.70 L330.29 184.64 L330.61 185.59 L330.93 186.54 L331.25 187.48 L331.57 188.43 L331.90 189.38 L332.22 190.33 L332.54 191.27 L332.87 192.22 L333.19 193.17 L333.52 194.11 L333.85 195.06 L334.18 196.00 L334.52 196.94 L334.86 197.88 L335.20 198.83 L335.54 199.76 L335.89 200.70 L336.24 201.64 L336.59 202.58 L336.95 203.51 L337.31 204.44 L337.68 205.37 L338.06 206.30 L338.43 207.23 L338.82 208.15 L339.21 209.07 L339.60 209.99 L340.00 210.91 L340.41 211.82 L340.82 212.74 L341.24 213.64 L341.67 214.55 L342.11 215.45 L342.55 216.35 L343.00 217.24 L343.46 218.13 L343.92 219.01 L344.40 219.90 L344.88 220.77 L345.37 221.64 L345.87 222.51 L346.38 223.37 L346.89 224.23 L347.41 225.09 L347.94 225.93 L348.48 226.78 L349.02 227.62 L349.57 228.46 L350.12 229.29 L350.68 230.12 L351.24 230.95 L351.81 231.77 L352.39 232.59 L352.96 233.41 L353.55 234.22 L354.13 235.03 L354.72 235.84 L355.31 236.65 L355.91 237.45 L356.51 238.25 L357.12 239.04 L357.74 239.83 L358.36 240.61 L359.00 241.39 L359.65 242.15 L360.31 242.90 L360.98 243.64 L361.67 244.36 L362.38 245.07 L363.10 245.77 L363.83 246.45 L364.58 247.12 L365.34 247.77 L366.11 248.40 L366.89 249.03 L367.69 249.63 L368.49 250.23 L369.31 250.80 L370.14 251.37 L370.97 251.91 L371.82 252.45 L372.68 252.97 L373.54 253.48 L374.41 253.97 L375.29 254.45 L376.17 254.92 L377.05 255.39 L377.95 255.84 L378.84 256.29 L379.74 256.73 L380.64 257.16 L381.54 257.59 L382.45 258.02 L383.36 258.44 L384.27 258.86 L385.18 259.27 L386.09 259.68 L387.01 260.08 L387.93 260.48 L388.85 260.87 L389.77 261.26 L390.69 261.64 L391.62 262.02 L392.55 262.40 L393.48 262.76 L394.41 263.13 L395.34 263.49 L396.28 263.84 L397.22 264.19 L398.16 264.53 L399.10 264.87 L400.04 265.20 L400.99 265.53 L401.93 265.86 L402.88 266.17 L403.83 266.49 L404.79 266.79 L405.74 267.10 L406.70 267.39 L407.65 267.68 L408.61 267.97 L409.57 268.25 L410.53 268.52 L411.50 268.79 L412.46 269.06 L413.43 269.32 L414.40 269.57 L415.37 269.82 L416.34 270.06 L417.31 270.29 L418.28 270.52 L419.26 270.75 L420.24 270.96 L421.21 271.18 L422.19 271.38 L423.17 271.58 L424.15 271.78 L425.14 271.97 L426.12 272.15 L427.11 272.33 L428.09 272.50 L429.08 272.66 L430.07 272.82 L431.06 272.97 L432.05 273.12 L433.04 273.26 L434.03 273.39 L435.02 273.52 L436.01 273.64 L437.01 273.76 L438.00 273.87 L439.00 273.98 L439.99 274.08 L440.99 274.17 L441.98 274.26 L442.98 274.35 L443.98 274.43 L444.98 274.51 L445.97 274.58 L446.97 274.65 L447.97 274.72 L448.97 274.78 L449.97 274.83 L450.97 274.89 L451.97 274.94 L452.97 274.98 L453.97 275.02 L454.97 275.06 L455.97 275.10 L456.97 275.13 L457.97 275.16 L458.97 275.19 L459.97 275.22 L460.97 275.24 L461.97 275.26 L462.97 275.28 L463.97 275.30 L464.97 275.31 L465.97 275.32 L466.97 275.33 L467.97 275.34 L468.97 275.35 L469.97 275.36 L470.97 275.36 L471.97 275.37 L472.97 275.37 L473.97 275.37 L474.97 275.37 L475.97 275.38 L476.98 275.38 L477.98 275.38 L478.98 275.38 L479.98 275.38 L480.98 275.38 L481.98 275.38 L482.98 275.38 L483.98 275.38 L484.98 275.39 L485.98 275.39 L486.98 275.39 L487.98 275.39 L488.98 275.40 L489.98 275.40 L490.98 275.41 L491.98 275.41 L492.98 275.41 L493.99 275.42 L494.99 275.42 L495.99 275.43 L496.99 275.43 L497.99 275.44 L498.99 275.44 L499.99 275.45 L500.99 275.46 L501.99 275.46 L502.99 275.47 L503.99 275.47 L504.99 275.48 L505.99 275.48 L506.99 275.49 L507.99 275.49 L508.99 275.50 L509.99 275.50 L510.99 275.50 L512.00 275.51 L513.00 275.51 L514.00 275.51 L515.00 275.52 L516.00 275.52 L517.00 275.52 L518.00 275.52 L519.00 275.53 L520.00 275.53 L521.00 275.53 L522.00 275.53 L523.00 275.53 L524.00 275.52 L525.00 275.52 L526.00 275.52 L527.00 275.52 L528.00 275.51 L529.01 275.51 L530.01 275.50 L531.01 275.50 L532.01 275.49 L533.01 275.48 L534.01 275.48" stroke-width="3" stroke-linecap="round" stroke-dasharray="6.5 6.7" stroke-dashoffset="12.9"/>
<line x1="443.5" y1="62.3" x2="478" y2="62.3" stroke-width="2.9" stroke-linecap="round" stroke-dasharray="0 6.64"/>
<line x1="443.7" y1="87.8" x2="480.9" y2="87.8" stroke-width="3.3" stroke-linecap="round"/>
<line x1="443.6" y1="113.3" x2="477" y2="113.3" stroke-width="3.2" stroke-linecap="round" stroke-dasharray="6.5 6.8"/>
</g>
<text x="68.4" y="283.20" text-anchor="end">0</text><text x="68.4" y="229.65" text-anchor="end">200</text><text x="68.4" y="176.10" text-anchor="end">400</text><text x="68.4" y="122.55" text-anchor="end">600</text><text x="68.4" y="69.00" text-anchor="end">800</text><text x="68.4" y="15.45" text-anchor="end">1000</text>
<text x="84.00" y="304.3" text-anchor="middle">300</text><text x="159.05" y="304.3" text-anchor="middle">350</text><text x="234.10" y="304.3" text-anchor="middle">400</text><text x="309.15" y="304.3" text-anchor="middle">450</text><text x="384.20" y="304.3" text-anchor="middle">500</text><text x="459.25" y="304.3" text-anchor="middle">550</text><text x="534.30" y="304.3" text-anchor="middle">600</text>
<text transform="translate(485.8,68.7) scale(1,0.97)" style="font-size:17px">4a</text>
<text transform="translate(485.8,94.4) scale(1,0.97)" style="font-size:17px">4b</text>
<text transform="translate(485.8,120.2) scale(1,0.97)" style="font-size:17px">4c</text>
<text transform="translate(289.2,333.6) scale(1,0.96)" text-anchor="middle">Wavelength (nm)</text>
<text transform="translate(15.9,141.6) rotate(-90) scale(0.983,0.9)" text-anchor="middle">Fluorescence Intensity (a. u. )</text>
</svg>
</body></html>
